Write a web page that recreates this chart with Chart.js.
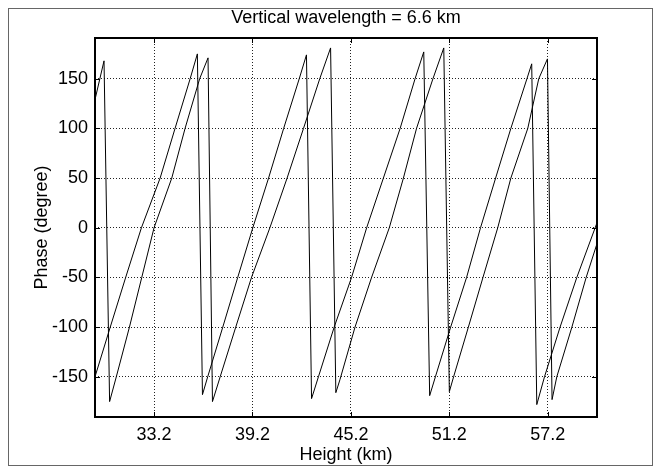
<!DOCTYPE html>
<html lang="en">
<head>
  <meta charset="UTF-8" />
  <title>Vertical wavelength</title>
  <script src="https://cdnjs.cloudflare.com/ajax/libs/Chart.js/4.4.1/chart.umd.min.js"></script>
  <style>
    *{margin:0;padding:0;box-sizing:border-box}
    body{background:#fff}
    .wrap{width:661px;height:473px;position:relative}
  </style>
</head>
<body>
  <div class="wrap"><canvas id="phaseChart" width="661" height="473"></canvas></div>

  <script>
    // phase curves (height in km, phase in degrees)
    const heightA = [29.6, 30.15, 30.49, 30.9, 31.7, 32.45, 33.2, 34.28, 35.09, 35.98, 36.49,
                     36.76, 37.23, 38.18, 39.14, 40.26, 41.31, 42.31, 43.3, 43.96,
                     44.28, 44.53, 45.45, 46.46, 47.54, 48.4, 49.2, 50.2, 50.86,
                     51.2, 51.46, 52.36, 53.25, 54.15, 54.95, 55.98, 56.65, 57.18,
                     57.46, 57.75, 58.67, 59.54, 60.2];
    const phaseA  = [129, 168, -175, -150, -100, -50, 0, 50, 100, 150, 171,
                     -175, -150, -100, -50, 0, 50, 100, 150, 181,
                     -166, -153, -100, -50, 0, 50, 100, 150, 181,
                     -165, -150, -100, -50, 0, 50, 100, 150, 170,
                     -173, -150, -100, -50, -16];

    const heightB = [29.6, 30.53, 31.47, 32.43, 33.57, 34.48, 35.4, 35.84,
                     36.15, 36.47, 37.39, 38.3, 39.22, 40.18, 41.1, 42.05, 42.49,
                     42.8, 43.22, 44.18, 45.24, 46.16, 47.18, 48.2, 49.11, 49.64,
                     50.0, 50.35, 51.28, 52.25, 53.1, 54.02, 54.95, 55.93, 56.22,
                     56.53, 57.0, 57.95, 58.97, 60.2];
    const phaseB  = [-150, -100, -50, 0, 50, 100, 150, 175,
                     -168, -150, -100, -50, 0, 50, 100, 150, 174,
                     -172, -150, -100, -50, 0, 50, 100, 150, 177,
                     -169, -150, -100, -50, 0, 50, 100, 150, 165,
                     -178, -150, -100, -50, 5];

    const xTicks = [33.2, 39.2, 45.2, 51.2, 57.2];
    const yTicks = [-150, -100, -50, 0, 50, 100, 150];
    const titleText = 'Vertical wavelength = 6.6 km';

    const toPoints = (xs, ys) => xs.map((x, i) => ({x: x, y: ys[i]}));

    const FONT = "'Liberation Sans', Arial, sans-serif";
    Chart.defaults.font.family = FONT;
    Chart.defaults.color = '#000';

    // outer figure frame, title over the axes, MATLAB-style box and inward ticks
    const matlabBox = {
      id: 'matlabBox',
      beforeDraw(chart) {
        const ctx = chart.ctx;
        ctx.save();
        ctx.fillStyle = '#fff';
        ctx.fillRect(0, 0, chart.width, chart.height);
        ctx.strokeStyle = '#666';
        ctx.lineWidth = 1;
        ctx.strokeRect(8.5, 8.5, 644, 457);
        ctx.restore();
      },
      afterDraw(chart) {
        const {ctx, chartArea: a, scales: {x, y}} = chart;
        ctx.save();
        ctx.strokeStyle = '#000';
        ctx.lineWidth = 1;
        ctx.beginPath();
        xTicks.forEach(v => {
          const px = Math.round(x.getPixelForValue(v)) + 0.5;
          ctx.moveTo(px, a.bottom); ctx.lineTo(px, a.bottom - 5);
          ctx.moveTo(px, a.top); ctx.lineTo(px, a.top + 5);
        });
        yTicks.forEach(v => {
          const py = Math.round(y.getPixelForValue(v)) + 0.5;
          ctx.moveTo(a.left, py); ctx.lineTo(a.left + 5, py);
          ctx.moveTo(a.right, py); ctx.lineTo(a.right - 5, py);
        });
        ctx.stroke();
        ctx.lineWidth = 2;
        ctx.strokeRect(a.left, a.top, a.right - a.left, a.bottom - a.top);

        ctx.fillStyle = '#000';
        ctx.font = '18px ' + FONT;
        ctx.textAlign = 'center';
        ctx.textBaseline = 'middle';
        ctx.fillText(titleText, (a.left + a.right) / 2, 18);
        ctx.restore();
      }
    };

    new Chart(document.getElementById('phaseChart'), {
      type: 'line',
      data: {
        datasets: [
          {data: toPoints(heightA, phaseA), borderColor: '#000', borderWidth: 1, pointRadius: 0, tension: 0, fill: false},
          {data: toPoints(heightB, phaseB), borderColor: '#000', borderWidth: 1, pointRadius: 0, tension: 0, fill: false}
        ]
      },
      options: {
        responsive: false,
        animation: false,
        devicePixelRatio: 1,
        layout: {padding: {left: 0, right: 64, top: 38, bottom: 0}},
        plugins: {
          legend: {display: false},
          tooltip: {enabled: false},
          title: {display: false}
        },
        scales: {
          x: {
            type: 'linear',
            min: 29.6,
            max: 60.2,
            afterBuildTicks: s => { s.ticks = xTicks.map(v => ({value: v})); },
            afterFit: s => { s.height = 56; },
            ticks: {padding: 7, font: {size: 18}, callback: v => v.toFixed(1)},
            grid: {color: '#222', lineWidth: 1, drawTicks: false},
            border: {display: false, dash: [1, 2]},
            title: {display: true, text: 'Height (km)', font: {size: 18}, padding: {top: 0, bottom: 7}}
          },
          y: {
            min: -190.5,
            max: 191,
            afterBuildTicks: s => { s.ticks = yTicks.map(v => ({value: v})); },
            afterFit: s => { s.width = 95; },
            ticks: {padding: 7, font: {size: 18}},
            grid: {color: '#222', lineWidth: 1, drawTicks: false},
            border: {display: false, dash: [1, 2]},
            title: {display: true, text: 'Phase (degree)', font: {size: 18}, padding: {top: 31, bottom: 0}}
          }
        }
      },
      plugins: [matlabBox]
    });
  </script>
</body>
</html>
